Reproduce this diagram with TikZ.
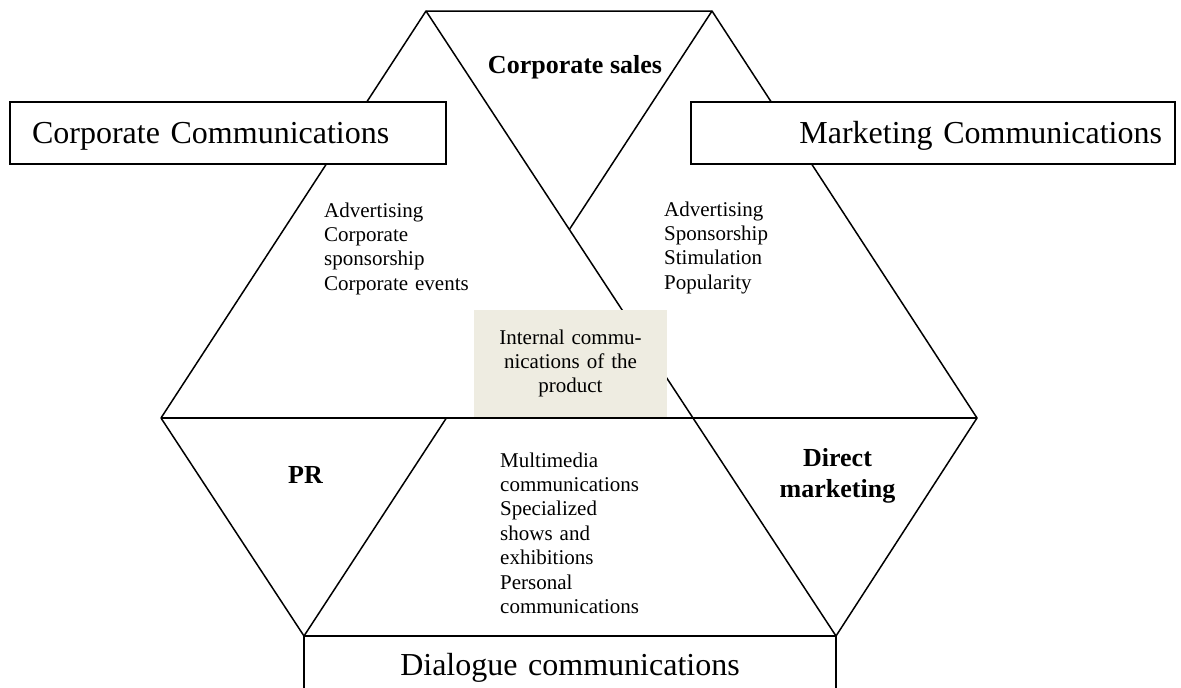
\documentclass[tikz,border=0pt]{standalone}
\usepackage{fontspec}
\setmainfont{Liberation Serif}
\definecolor{beige}{RGB}{238,236,225}
\begin{document}
\begin{tikzpicture}[x=1pt,y=-1pt,
  edge/.style={line width=1.5pt, line join=miter},
  bigbox/.style={draw, line width=1.5pt, fill=white, font=\fontsize{32}{38}\selectfont,
    inner ysep=0pt, text height=25pt, text depth=4pt},
  heading/.style={font=\bfseries\fontsize{26}{31}\selectfont, inner sep=0pt, anchor=base},
  itemlist/.style={font=\fontsize{21}{24.4}\selectfont, inner sep=0pt, anchor=base west, align=left},
  innerbox/.style={fill=beige, inner xsep=6.5pt, inner ysep=0pt, minimum width=193pt,
    minimum height=107pt, text width=180pt, align=center, font=\fontsize{21}{24}\selectfont}
]
\clip (0,0) rectangle (1181,688);
% vertices of the figure
\coordinate (A) at (426,11);
\coordinate (B) at (712,11);
\coordinate (L) at (161,418);
\coordinate (R) at (977,418);
\coordinate (C) at (304,636);
\coordinate (D) at (836,636);
\coordinate (X) at (intersection of A--D and B--C);
\coordinate (P) at (intersection of B--C and L--R);
% lines
\draw[edge] (L) -- (A) -- (B) -- (R) -- (D);
\draw[edge] (A) -- (D);
\draw[edge] (B) -- (X);
\draw[edge] (L) -- (C) -- (P);
% inner box
\node[innerbox] (ic) at (570.5,363.5) {Internal commu-\\nications of the\\product};
\draw[edge] (L) -- (R);
% boxes
\node[bigbox, minimum width=436pt, minimum height=62pt, inner xsep=22pt, text width=392pt, align=left]
  (cc) at (228,133) {Corporate Communications};
\node[bigbox, minimum width=484pt, minimum height=62pt, inner xsep=13pt, text width=458pt, align=right]
  (mc) at (933,133) {Marketing Communications};
\node[bigbox, minimum width=532pt, minimum height=57pt, inner xsep=10pt, text width=512pt, align=center]
  (dc) at (570,664.5) {Dialogue communications};
% headings
\node[heading] (cs) at (575,73) {Corporate sales};
\node[heading] (pr) at (305.5,483) {PR};
\node[heading, text width=140pt, align=center] (dm) at (837.5,466) {Direct\\marketing};
% lists
\node[itemlist, text width=160pt] (ccl) at (324,217)
  {Advertising\\Corporate\\sponsorship\\Corporate events};
\node[itemlist, text width=130pt] (mcl) at (664,216)
  {Advertising\\Sponsorship\\Stimulation\\Popularity};
\node[itemlist, text width=150pt] (dcl) at (500,467)
  {Multimedia\\communications\\Specialized\\shows and\\exhibitions\\Personal\\communications};
\end{tikzpicture}
\end{document}
